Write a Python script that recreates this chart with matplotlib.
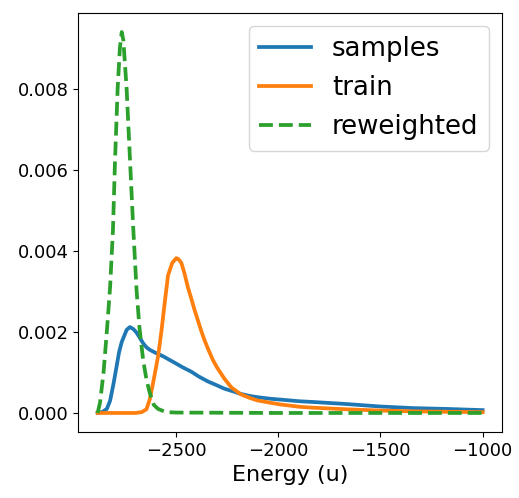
import matplotlib
matplotlib.use("Agg")
import matplotlib.pyplot as plt

# samples
samples_E = [-2885, -2860, -2840, -2824, -2808, -2792, -2780, -2767, -2755, -2743, -2727,
             -2710, -2694, -2678, -2662, -2646, -2630, -2600, -2565, -2508, -2470, -2427,
             -2390, -2346, -2300, -2265, -2220, -2184, -2140, -2103, -2038, -1990, -1900,
             -1828, -1665, -1503, -1342, -1179, -1000]
samples_p = [0.0, 0.00003, 0.0001, 0.0003, 0.0007, 0.00115, 0.0015, 0.00175, 0.0019,
             0.00205, 0.00212, 0.00207, 0.00198, 0.00185, 0.00172, 0.00162, 0.00156,
             0.00148, 0.0014, 0.00124, 0.00113, 0.00102, 0.0009, 0.00078, 0.00068, 0.0006,
             0.00053, 0.00047, 0.00042, 0.00039, 0.00035, 0.00033, 0.00029, 0.00027,
             0.00022, 0.00016, 0.00012, 0.00010, 0.00007]

# train
train_E = [-2885, -2700, -2670, -2646, -2630, -2613, -2600, -2589, -2573, -2557, -2540,
           -2520, -2500, -2490, -2475, -2460, -2443, -2425, -2411, -2395, -2378, -2362,
           -2346, -2320, -2300, -2265, -2230, -2184, -2140, -2103, -2038, -1990, -1892,
           -1828, -1665, -1503, -1406, -1342, -1179, -1000]
train_p = [0.0, 0.0, 0.00002, 0.00009, 0.00033, 0.00075, 0.0011, 0.0014, 0.0020, 0.0027,
           0.0034, 0.0037, 0.00382, 0.0038, 0.0037, 0.00345, 0.0031, 0.0028, 0.00255,
           0.0023, 0.00203, 0.0018, 0.0016, 0.0013, 0.00112, 0.00085, 0.00063, 0.00046,
           0.00037, 0.00031, 0.00025, 0.00021, 0.00015, 0.00013, 0.00009, 0.00006,
           0.00005, 0.00004, 0.00003, 0.00002]

# reweighted
rew_E = [-2885, -2873, -2856, -2840, -2824, -2810, -2800, -2787, -2776, -2767, -2759,
         -2743, -2727, -2711, -2694, -2680, -2662, -2645, -2630, -2610, -2589, -2550,
         -2500, -2000, -1000]
rew_p = [0.0, 0.00026, 0.0010, 0.0020, 0.0031, 0.0045, 0.0062, 0.0080, 0.0090, 0.0094,
         0.0092, 0.0080, 0.0063, 0.0046, 0.0030, 0.0021, 0.0013, 0.0008, 0.0005, 0.0002,
         0.0001, 0.00002, 0.00001, 0.0, 0.0]

fig = plt.figure(figsize=(5.19, 4.98), dpi=100)
ax = fig.add_axes([0.151, 0.1325, 0.816, 0.8415])
lw = 2.7
ax.plot(samples_E, samples_p, color="#1f77b4", lw=lw, label="samples")
ax.plot(train_E, train_p, color="#ff7f0e", lw=lw, label="train")
ax.plot(rew_E, rew_p, color="#2ca02c", lw=lw, ls="--", label="reweighted")

ax.set_xticks([-2500, -2000, -1500, -1000])
ax.set_yticks([0.0, 0.002, 0.004, 0.006, 0.008])
ax.tick_params(labelsize=13)
ax.set_xlabel("Energy (u)", fontsize=16)
ax.legend(fontsize=18.7, loc="upper right")

fig.savefig("out.png", dpi=100)
